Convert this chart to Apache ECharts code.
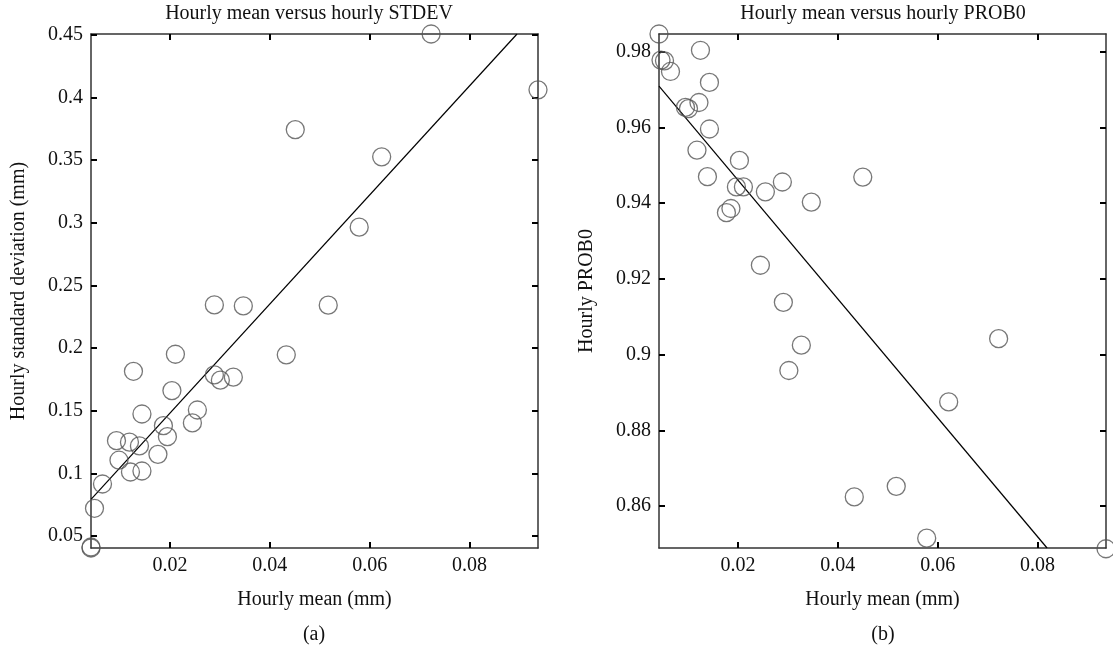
<!DOCTYPE html>
<html>
<head>
<meta charset="utf-8">
<script src="https://cdn.jsdelivr.net/npm/echarts@6/dist/echarts.min.js"></script>
<style>html,body{margin:0;padding:0;background:#fff}#c{width:1113px;height:652px}</style>
</head>
<body>
<div id="c"></div>
<script>
// Panel (a): hourly mean vs hourly standard deviation
const meanA = [0.0042,0.0042,0.0049,0.0065,0.0093,0.0098,0.0119,0.0121,0.0127,0.0139,0.0144,0.0144,0.0176,0.0187,0.0195,0.0204,0.0211,0.0245,0.0255,0.0289,0.0289,0.0301,0.0327,0.0347,0.0433,0.0451,0.0517,0.0579,0.0624,0.0723,0.0937];
const stdevA = [0.0404,0.0412,0.0721,0.0915,0.1261,0.1105,0.1249,0.1011,0.1815,0.1219,0.1019,0.1474,0.1152,0.1381,0.1293,0.1661,0.1951,0.1403,0.1506,0.2345,0.1786,0.1744,0.1768,0.2337,0.1946,0.3745,0.2343,0.2966,0.3527,0.4508,0.4062];
const fitA_x = [0.0042, 0.0895];
const fitA_y = [0.0793, 0.4508];

// Panel (b): hourly mean vs hourly PROB0
const meanB = [0.0042,0.0046,0.0053,0.0065,0.0095,0.0101,0.0118,0.0122,0.0125,0.0139,0.0143,0.0143,0.0177,0.0186,0.0197,0.0203,0.0211,0.0245,0.0255,0.0289,0.0291,0.0302,0.0327,0.0347,0.0433,0.0450,0.0517,0.0578,0.0622,0.0722,0.0937];
const prob0B = [0.9847,0.9778,0.9776,0.9748,0.9653,0.9650,0.9540,0.9666,0.9804,0.9470,0.9719,0.9596,0.9375,0.9386,0.9443,0.9513,0.9443,0.9236,0.9430,0.9456,0.9138,0.8958,0.9025,0.9403,0.8624,0.9469,0.8652,0.8515,0.8875,0.9042,0.8487];
const fitB_x = [0.0042, 0.0819];
const fitB_y = [0.9709, 0.8489];

// Axis ranges and tick labels
const xRange = [0.0042, 0.0937];
const yRangeA = [0.0404, 0.4508];
const yRangeB = [0.8489, 0.9847];
const xTicks = [0.02, 0.04, 0.06, 0.08];
const yTicksA = [0.05, 0.1, 0.15, 0.2, 0.25, 0.3, 0.35, 0.4, 0.45];
const yTicksB = [0.86, 0.88, 0.9, 0.92, 0.94, 0.96, 0.98];

const titles = ['Hourly mean versus hourly STDEV', 'Hourly mean versus hourly PROB0'];
const xName = 'Hourly mean (mm)';
const yNames = ['Hourly standard deviation (mm)', 'Hourly PROB0'];
const panelTags = ['(a)', '(b)'];

const FONT = 'Liberation Serif';
const FS = 20;
const zip = (a, b) => a.map((v, i) => [v, b[i]]);

function mainX(gi) {
  return {
    type: 'value', gridIndex: gi, min: xRange[0], max: xRange[1],
    name: xName, nameLocation: 'middle', nameGap: 42,
    nameTextStyle: {fontFamily: FONT, fontSize: FS, color: '#111'},
    axisLine: {lineStyle: {color: '#333', width: 1.5}},
    axisTick: {inside: true, length: 6, customValues: xTicks, lineStyle: {color: '#000', width: 2}},
    axisLabel: {customValues: xTicks, fontFamily: FONT, fontSize: FS, color: '#111', margin: 8},
    splitLine: {show: false}
  };
}
function topX(gi) {
  return {
    type: 'value', gridIndex: gi, position: 'top', min: xRange[0], max: xRange[1],
    axisLine: {lineStyle: {color: '#333', width: 1.5}},
    axisTick: {inside: true, length: 6, customValues: xTicks, lineStyle: {color: '#000', width: 2}},
    axisLabel: {show: false}, splitLine: {show: false}
  };
}
function mainY(gi, range, ticks, name, gap) {
  return {
    type: 'value', gridIndex: gi, min: range[0], max: range[1],
    name: name, nameLocation: 'middle', nameGap: gap,
    nameTextStyle: {fontFamily: FONT, fontSize: FS, color: '#111'},
    axisLine: {lineStyle: {color: '#333', width: 1.5}},
    axisTick: {inside: true, length: 6, customValues: ticks, lineStyle: {color: '#000', width: 2}},
    axisLabel: {customValues: ticks, fontFamily: FONT, fontSize: FS, color: '#111', margin: 8},
    splitLine: {show: false}
  };
}
function rightY(gi, range, ticks) {
  return {
    type: 'value', gridIndex: gi, position: 'right', min: range[0], max: range[1],
    axisLine: {lineStyle: {color: '#333', width: 1.5}},
    axisTick: {inside: true, length: 6, customValues: ticks, lineStyle: {color: '#000', width: 2}},
    axisLabel: {show: false}, splitLine: {show: false}
  };
}

const scatterStyle = {color: 'transparent', borderColor: '#555', borderWidth: 1.3};
const tStyle = {fontFamily: FONT, fontSize: FS, fontWeight: 'normal', color: '#111'};

const option = {
  animation: false,
  backgroundColor: '#fff',
  title: [
    {text: titles[0], left: 309, top: 4, padding: 0, textAlign: 'center', textStyle: tStyle},
    {text: titles[1], left: 883, top: 4, padding: 0, textAlign: 'center', textStyle: tStyle},
    {text: panelTags[0], left: 314, top: 625, padding: 0, textAlign: 'center', textStyle: tStyle},
    {text: panelTags[1], left: 883, top: 625, padding: 0, textAlign: 'center', textStyle: tStyle}
  ],
  grid: [
    {left: 91, top: 34, width: 447, height: 514},
    {left: 659, top: 34, width: 447, height: 514}
  ],
  xAxis: [mainX(0), topX(0), mainX(1), topX(1)],
  yAxis: [
    mainY(0, yRangeA, yTicksA, yNames[0], 62), rightY(0, yRangeA, yTicksA),
    mainY(1, yRangeB, yTicksB, yNames[1], 62), rightY(1, yRangeB, yTicksB)
  ],
  series: [
    {type: 'line', xAxisIndex: 0, yAxisIndex: 0, data: zip(fitA_x, fitA_y), symbol: 'none', lineStyle: {color: '#000', width: 1.2}, z: 3},
    {type: 'scatter', xAxisIndex: 0, yAxisIndex: 0, data: zip(meanA, stdevA), symbol: 'circle', symbolSize: 18, clip: false, itemStyle: scatterStyle, z: 4},
    {type: 'line', xAxisIndex: 2, yAxisIndex: 2, data: zip(fitB_x, fitB_y), symbol: 'none', lineStyle: {color: '#000', width: 1.2}, z: 3},
    {type: 'scatter', xAxisIndex: 2, yAxisIndex: 2, data: zip(meanB, prob0B), symbol: 'circle', symbolSize: 18, clip: false, itemStyle: scatterStyle, z: 4}
  ]
};

const chart = echarts.init(document.getElementById('c'), null, {renderer: 'canvas'});
chart.setOption(option);
</script>
</body>
</html>
